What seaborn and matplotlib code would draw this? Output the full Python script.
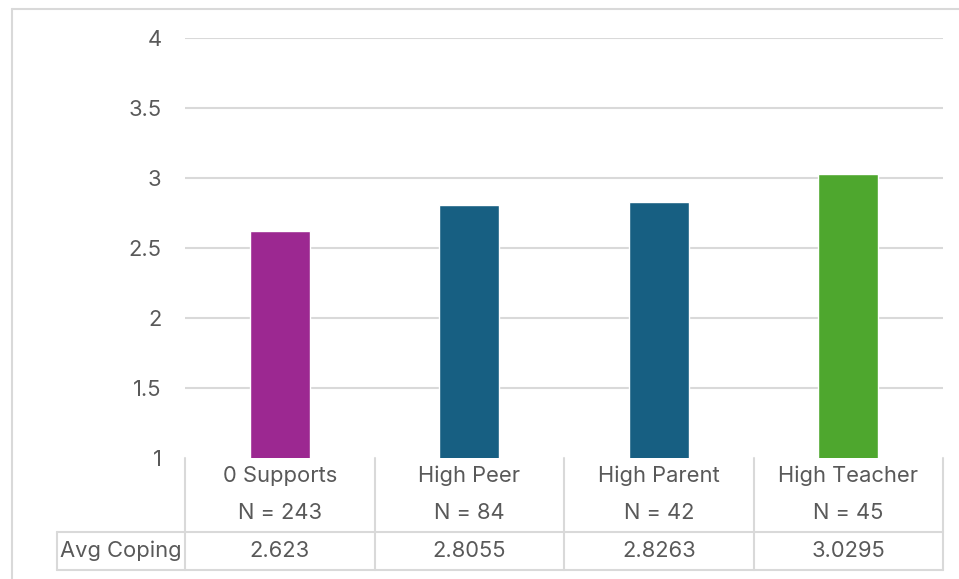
import matplotlib
matplotlib.use("Agg")
import matplotlib.pyplot as plt
import matplotlib.transforms as mtransforms
from matplotlib.lines import Line2D
import seaborn as sns
import pandas as pd

categories = ["0 Supports", "High Peer", "High Parent", "High Teacher"]
counts = [243, 84, 42, 45]
avg_coping = [2.623, 2.8055, 2.8263, 3.0295]
value_labels = ["2.623", "2.8055", "2.8263", "3.0295"]
row_label = "Avg Coping"
bar_colors = ["#9C2891", "#175F82", "#175F82", "#4EA72E"]
y_ticks = [1, 1.5, 2, 2.5, 3, 3.5, 4]
y_tick_labels = ["1", "1.5", "2", "2.5", "3", "3.5", "4"]

sns.set_theme(style="white")
plt.rcParams["font.family"] = ["Inter", "DejaVu Sans"]

TEXT = "#595959"
GRID = "#D9D9D9"
FS = 15.8

W, H = 959, 579
fig = plt.figure(figsize=(W / 100, H / 100), dpi=100)
ax = fig.add_axes([185 / W, 1 - 458 / H, (943 - 185) / W, (458 - 38) / H])

df = pd.DataFrame({"category": categories, "value": avg_coping})
sns.barplot(data=df, x="category", y="value", hue="category",
            palette=bar_colors, legend=False, width=0.317,
            saturation=1, ax=ax, zorder=3)

ax.set_xlim(-0.5, len(categories) - 0.5)
ax.set_ylim(1, 4)
ax.set_yticks(y_ticks)
ax.set_yticklabels(y_tick_labels, color=TEXT, fontsize=FS)
ax.tick_params(axis="y", length=0, pad=17)
ax.set_xticks([])
ax.set_xlabel("")
ax.set_ylabel("")
for s in ax.spines.values():
    s.set_visible(False)
for t in y_ticks[1:]:
    ax.axhline(t, color=GRID, lw=1.5, zorder=1)

# data table under the plot: x in data units, y in axes fraction
trans = mtransforms.blended_transform_factory(ax.transData, ax.transAxes)
px = 1 / 420.0
y_top = 0.0
y_mid = -(532 - 458) * px
y_bot = -(570 - 458) * px
x_left_label = -0.5 + (57 - 185) / 189.5
n = len(categories)

def tline(xs, ys):
    ax.add_line(Line2D(xs, ys, transform=trans, color=GRID, lw=1.5,
                       clip_on=False, zorder=2))

tline([-0.5, n - 0.5], [y_mid, y_mid])
tline([x_left_label, n - 0.5], [y_bot, y_bot])
tline([x_left_label, -0.5], [y_mid, y_mid])
tline([x_left_label, x_left_label], [y_mid, y_bot])
for i in range(n + 1):
    tline([i - 0.5, i - 0.5], [y_top, y_bot])

for i, (cat, cnt, lab) in enumerate(zip(categories, counts, value_labels)):
    ax.text(i, -(476 - 458) * px, cat, transform=trans, ha="center",
            va="center", color=TEXT, fontsize=FS)
    ax.text(i, -(513 - 458) * px, f"N = {cnt}", transform=trans,
            ha="center", va="center", color=TEXT, fontsize=FS)
    ax.text(i, -(551 - 458) * px, lab, transform=trans, ha="center",
            va="center", color=TEXT, fontsize=FS)
ax.text((x_left_label - 0.5) / 2, -(551 - 458) * px, row_label,
        transform=trans, ha="center", va="center", color=TEXT, fontsize=FS)

# chart frame
fig.add_artist(Line2D([12 / W, 1], [1 - 8.5 / H, 1 - 8.5 / H],
                      transform=fig.transFigure, color=GRID, lw=1.5))
fig.add_artist(Line2D([12 / W, 12 / W], [0, 1 - 8.5 / H],
                      transform=fig.transFigure, color=GRID, lw=1.5))

fig.savefig("out.png", dpi=100, facecolor="white")
